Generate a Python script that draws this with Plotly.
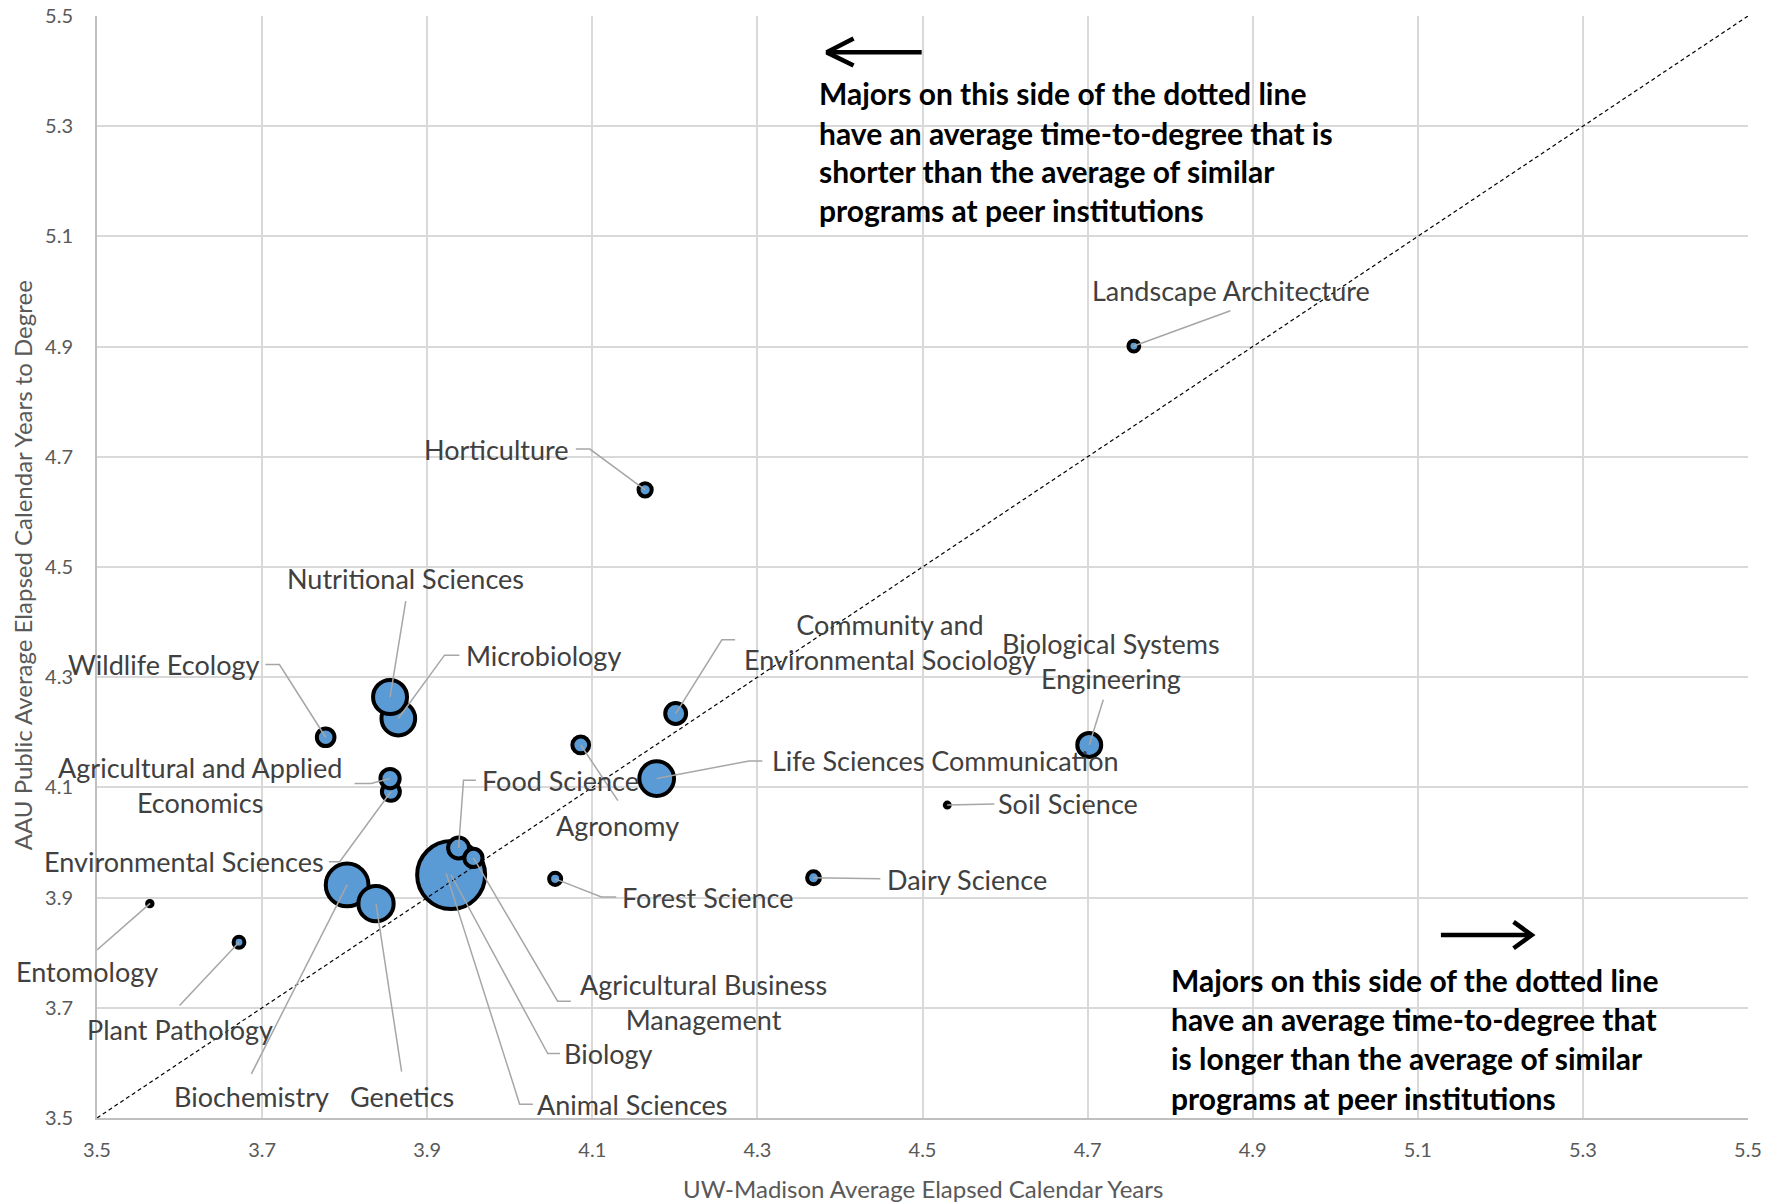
import plotly.graph_objects as go

# ---------------- data (draw order) ----------------
majors = [
    "Animal Sciences", "Biology", "Biochemistry", "Genetics",
    "Life Sciences Communication", "Microbiology", "Nutritional Sciences",
    "Biological Systems Engineering", "Food Science",
    "Community and Environmental Sociology", "Environmental Sciences",
    "Agricultural and Applied Economics", "Agricultural Business Management",
    "Wildlife Ecology", "Agronomy", "Horticulture", "Dairy Science",
    "Forest Science", "Plant Pathology", "Landscape Architecture",
    "Entomology", "Soil Science",
]
uw_years = [3.923, 3.929, 3.803, 3.838, 4.178, 3.865, 3.855, 4.702, 3.938,
            4.201, 3.856, 3.855, 3.956, 3.777, 4.086, 4.164, 4.368, 4.055,
            3.672, 4.756, 3.564, 4.530]
aau_years = [3.944, 3.941, 3.923, 3.889, 4.116, 4.225, 4.264, 4.177, 3.990,
             4.234, 4.092, 4.116, 3.972, 4.191, 4.177, 4.640, 3.936, 3.934,
             3.819, 4.901, 3.889, 4.068]
graduates = [80, 476, 188, 128, 124, 117, 119, 59, 45,
             45, 33, 38, 34, 32, 29, 18, 17, 15,
             12, 12, 3, 2.5]

axis_ticks = [3.5, 3.7, 3.9, 4.1, 4.3, 4.5, 4.7, 4.9, 5.1, 5.3, 5.5]

# ---------------- label layout (text, anchor pos, xanchor, leader path) ----------------
label_layout = {
    "Landscape Architecture": ("Landscape Architecture", (4.874, 5.002), "center", [(4.873, 4.965)]),
    "Horticulture": ("Horticulture", (3.984, 4.714), "center", [(4.080, 4.714), (4.097, 4.714)]),
    "Nutritional Sciences": ("Nutritional Sciences", (3.874, 4.479), "center", [(3.874, 4.438)]),
    "Microbiology": ("Microbiology", (4.041, 4.340), "center", [(3.939, 4.340), (3.921, 4.340)]),
    "Wildlife Ecology": ("Wildlife Ecology", (3.580, 4.323), "center", [(3.704, 4.323), (3.721, 4.323)]),
    "Agricultural and Applied Economics": ("Agricultural and Applied<br>Economics", (3.625, 4.104), "center",
                                           [(3.812, 4.107), (3.832, 4.107)]),
    "Environmental Sciences": ("Environmental Sciences", (3.605, 3.965), "center", [(3.781, 3.965), (3.794, 3.965)]),
    "Food Science": ("Food Science", (4.061, 4.113), "center", [(3.959, 4.113), (3.944, 4.113)]),
    "Agronomy": ("Agronomy", (4.131, 4.031), "center", [(4.131, 4.076)]),
    "Community and Environmental Sociology": ("Community and<br>Environmental Sociology", (4.461, 4.364), "center",
                                              [(4.273, 4.368), (4.257, 4.368)]),
    "Biological Systems Engineering": ("Biological Systems<br>Engineering", (4.728, 4.329), "center", [(4.719, 4.259)]),
    "Life Sciences Communication": ("Life Sciences Communication", (4.528, 4.148), "center",
                                    [(4.306, 4.148), (4.290, 4.148)]),
    "Soil Science": ("Soil Science", (4.676, 4.070), "center", [(4.587, 4.070), (4.548, 4.068)]),
    "Dairy Science": ("Dairy Science", (4.554, 3.932), "center", [(4.449, 3.934)]),
    "Forest Science": ("Forest Science", (4.240, 3.901), "center", [(4.129, 3.901), (4.111, 3.901)]),
    "Agricultural Business Management": ("Agricultural Business<br>Management", (4.235, 3.710), "center",
                                         [(4.074, 3.712), (4.058, 3.712)]),
    "Biology": ("Biology", (4.120, 3.617), "center", [(4.061, 3.617), (4.046, 3.617)]),
    "Animal Sciences": ("Animal Sciences", (4.149, 3.525), "center", [(4.028, 3.525), (4.012, 3.525)]),
    "Genetics": ("Genetics", (3.869, 3.539), "center", [(3.869, 3.584)]),
    "Biochemistry": ("Biochemistry", (3.687, 3.539), "center", [(3.687, 3.580)]),
    "Plant Pathology": ("Plant Pathology", (3.600, 3.660), "center", [(3.600, 3.704)]),
    "Entomology": ("Entomology", (3.576, 3.765), "right", [(3.500, 3.805)]),
}

LABEL_FONT = "Lato, Calibri, Carlito, sans-serif"
TEXT_COLOR = "#404040"
AXIS_COLOR = "#595959"

fig = go.Figure()

# bubbles
max_px = 68
fig.add_trace(go.Scatter(
    x=uw_years, y=aau_years, mode="markers",
    marker=dict(size=graduates, sizemode="area",
                sizeref=2.0 * max(graduates) / (max_px ** 2),
                color="#5B9BD5", line=dict(color="black", width=4), opacity=1),
    hoverinfo="text", text=majors, showlegend=False,
))

# diagonal parity line
fig.add_trace(go.Scatter(
    x=[axis_ticks[0], axis_ticks[-1]], y=[axis_ticks[0], axis_ticks[-1]],
    mode="lines", line=dict(color="black", width=1.2, dash="4px,3px"),
    hoverinfo="skip", showlegend=False,
))

# leader lines
lx, ly = [], []
annotations = []
for name, xv, yv in zip(majors, uw_years, aau_years):
    text, (tx, ty), xanchor, path = label_layout[name]
    for px, py in path:
        lx.append(px)
        ly.append(py)
    lx.append(xv)
    ly.append(yv)
    lx.append(None)
    ly.append(None)
    annotations.append(dict(
        x=tx, y=ty, xref="x", yref="y", text=text, showarrow=False,
        xanchor=xanchor, yanchor="middle", align="center",
        font=dict(family=LABEL_FONT, size=27, color=TEXT_COLOR),
    ))

fig.add_trace(go.Scatter(
    x=lx, y=ly, mode="lines", line=dict(color="#A6A6A6", width=1.5),
    hoverinfo="skip", showlegend=False,
))

# direction arrows (shaft + chevron)
arrow_x = [4.499, 4.384, None, 4.4165, 4.384, 4.4165, None,
           5.128, 5.238, None, 5.216, 5.238, 5.216]
arrow_y = [5.434, 5.434, None, 5.459, 5.434, 5.410, None,
           3.832, 3.832, None, 3.856, 3.832, 3.808]
fig.add_trace(go.Scatter(
    x=arrow_x, y=arrow_y, mode="lines",
    line=dict(color="black", width=4.5), hoverinfo="skip", showlegend=False,
))

# explanatory notes
top_note = ["Majors on this side of the dotted line",
            "have an average time-to-degree that is",
            "shorter than the average of similar",
            "programs at peer institutions"]
bottom_note = ["Majors on this side of the dotted line",
               "have an average time-to-degree that",
               "is longer than the average of similar",
               "programs at peer institutions"]
top_y = [5.360, 5.288, 5.218, 5.148]
bottom_y = [3.751, 3.679, 3.609, 3.537]
for line, yv in zip(top_note, top_y):
    annotations.append(dict(x=4.372, y=yv, xref="x", yref="y", text="<b>" + line + "</b>",
                            showarrow=False, xanchor="left", yanchor="middle",
                            font=dict(family=LABEL_FONT, size=30, color="black")))
for line, yv in zip(bottom_note, bottom_y):
    annotations.append(dict(x=4.798, y=yv, xref="x", yref="y", text="<b>" + line + "</b>",
                            showarrow=False, xanchor="left", yanchor="middle",
                            font=dict(family=LABEL_FONT, size=30, color="black")))

# axis titles
annotations.append(dict(x=0.5, y=-0.064, xref="paper", yref="paper",
                        text="UW-Madison Average Elapsed Calendar Years", showarrow=False,
                        xanchor="center", yanchor="middle",
                        font=dict(family=LABEL_FONT, size=24, color=AXIS_COLOR)))
annotations.append(dict(x=-0.0455, y=0.5015, xref="paper", yref="paper",
                        text="AAU Public Average Elapsed Calendar Years to Degree", showarrow=False,
                        textangle=-90, xanchor="center", yanchor="middle",
                        font=dict(family=LABEL_FONT, size=24, color=AXIS_COLOR)))

axis_common = dict(
    range=[axis_ticks[0], axis_ticks[-1]], tickvals=axis_ticks,
    ticktext=[f"{t:.1f}" for t in axis_ticks],
    showgrid=True, gridcolor="#D9D9D9", gridwidth=1.5,
    zeroline=False, showline=True, linecolor="#BFBFBF", linewidth=2,
    ticks="outside", tickcolor="rgba(0,0,0,0)",
    tickfont=dict(family=LABEL_FONT, size=20, color=AXIS_COLOR),
    fixedrange=True, automargin=False,
)

fig.update_layout(
    width=1776, height=1204,
    margin=dict(l=97, r=28, t=16, b=86, autoexpand=False),
    paper_bgcolor="white", plot_bgcolor="white",
    xaxis=dict(**axis_common, ticklen=13),
    yaxis=dict(**axis_common, ticklen=18),
    annotations=annotations,
    showlegend=False,
)

fig.write_html("out.html", config={"displayModeBar": False},
               post_script="document.body.style.margin='0';document.body.style.overflow='hidden';")
